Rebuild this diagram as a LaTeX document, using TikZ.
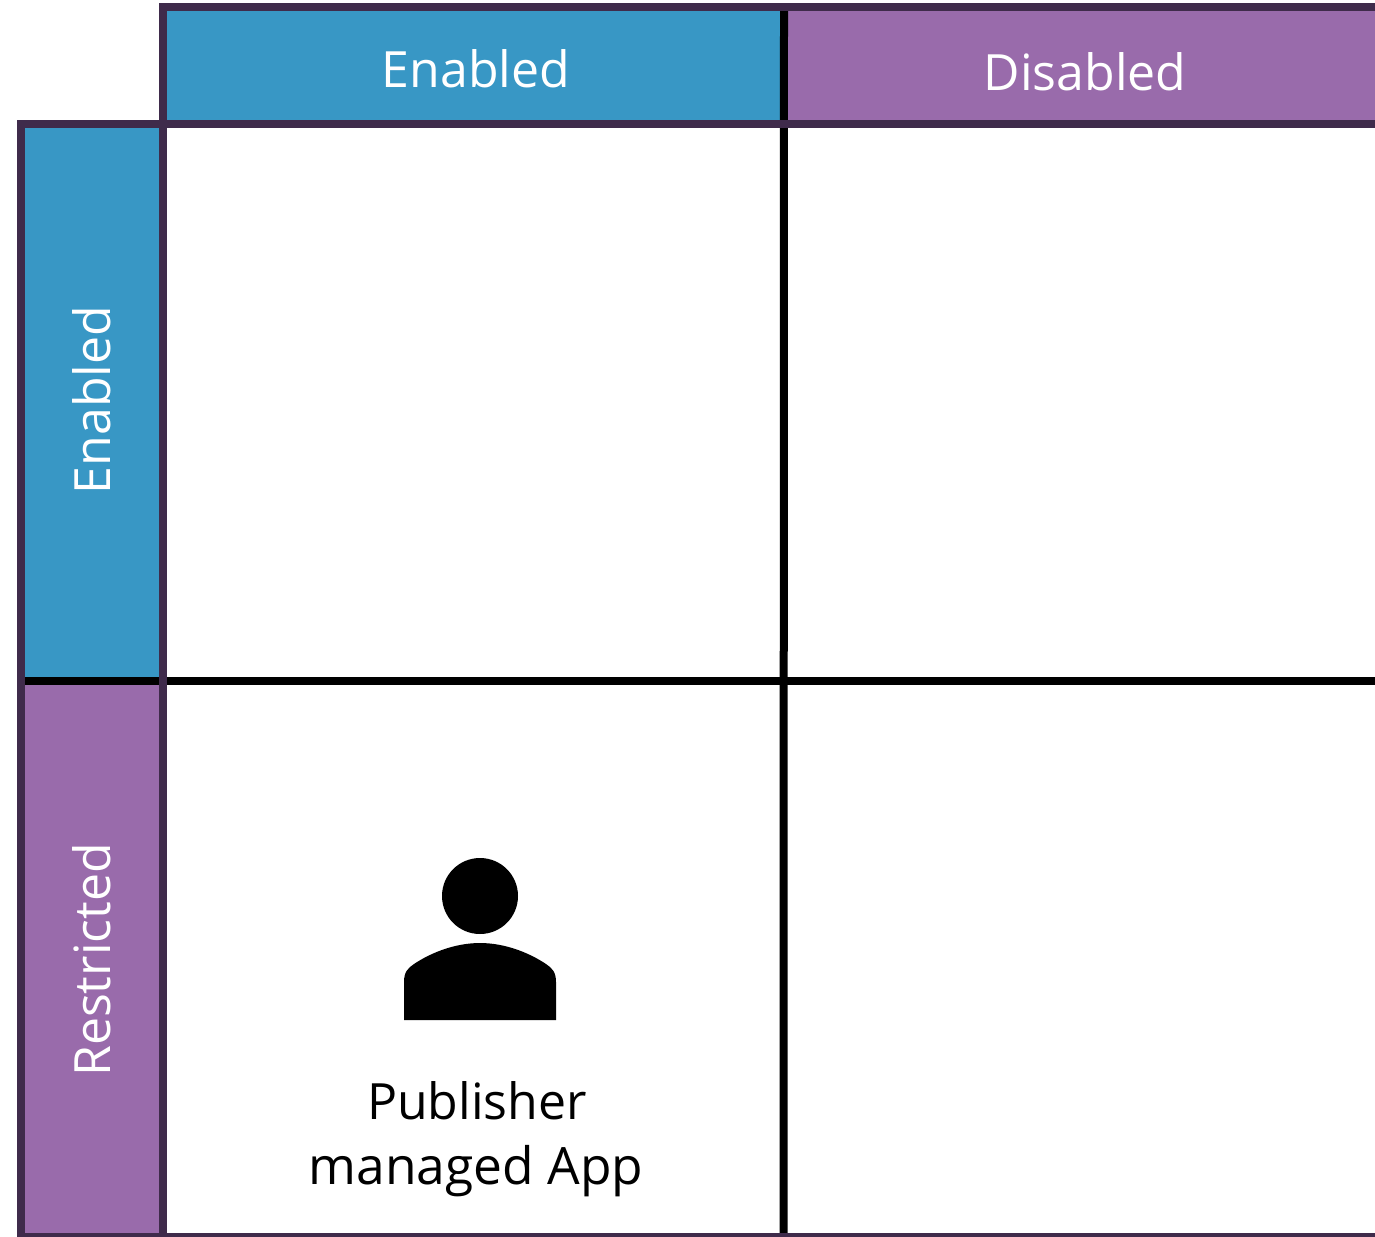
\documentclass[tikz,border=0pt]{standalone}
\usepackage{fontspec}
\setmainfont{Open Sans}
\usepackage{tikz}

\definecolor{hdrblue}{HTML}{3897C5}
\definecolor{hdrpurple}{HTML}{996BAB}
\definecolor{hdrframe}{HTML}{3F2B4B}

\begin{document}
\begin{tikzpicture}[x=1pt, y=-1pt,
    cell/.style = {inner sep=0pt, outer sep=0pt, anchor=north west},
    head/.style = {white, font=\fontsize{50}{60}\selectfont},
    frameline/.style = {line width=8pt, hdrframe},
    gridline/.style = {line width=8pt, black}]
    \clip (0,0) rectangle (1375,1236);
    % header fills
    \node[cell, fill=hdrblue, minimum width=621pt, minimum height=117pt] (topleft) at (163,7.5) {};
    \node[cell, fill=hdrpurple, minimum width=591pt, minimum height=117pt] (topright) at (784,7.5) {};
    \node[cell, fill=hdrblue, minimum width=142pt, minimum height=556.5pt] (sideupper) at (21,124.5) {};
    \node[cell, fill=hdrpurple, minimum width=142pt, minimum height=556.5pt] (sidelower) at (21,681) {};
    % header texts
    \node[head] (topen) at (476,69) {Enabled};
    \node[head] (topdis) at (1085,72) {Disabled};
    \node[head, rotate=90] (sideen) at (92,400) {Enabled};
    \node[head, rotate=90] (sideres) at (92,960) {Restricted};
    % line ends
    \coordinate (t0) at (163,7.5);
    \coordinate (t1) at (1375,7.5);
    \coordinate (m0) at (17,124.5);
    \coordinate (m1) at (1375,124.5);
    \coordinate (h0) at (21,681);
    \coordinate (h1) at (1375,681);
    \coordinate (b0) at (17,1237);
    \coordinate (b1) at (1375,1237);
    \coordinate (c0) at (21,124.5);
    \coordinate (c1) at (21,1237);
    \coordinate (d0) at (163,3.5);
    \coordinate (d1) at (163,1237);
    \coordinate (v0) at (784,7.5);
    \coordinate (v1) at (783.5,1237);
    % black grid first, frame on top
    \draw[gridline] (h0) -- (h1);
    \draw[gridline] (v0) -- (v1);
    \draw[frameline] (t0) -- (t1);
    \draw[frameline] (m0) -- (m1);
    \draw[frameline] (b0) -- (b1);
    \draw[frameline] (c0) -- (c1);
    \draw[frameline] (d0) -- (d1);
    % person
    \node[circle, fill=black, inner sep=0pt, minimum size=76pt] (userhead) at (480,896) {};
    \fill[black] (404,1020) -- (404,982) .. controls (404,972) and (408,968) .. (414,964)
        .. controls (432,952) and (456,943) .. (480,943)
        .. controls (504,943) and (528,952) .. (546,964)
        .. controls (552,968) and (556,972) .. (556,982) -- (556,1020) -- cycle;
    \node[font=\fontsize{50}{60}\selectfont] (pub) at (477,1101) {Publisher};
    \node[font=\fontsize{51.5}{60}\selectfont] (app) at (476,1171) {managed App};
\end{tikzpicture}
\end{document}
